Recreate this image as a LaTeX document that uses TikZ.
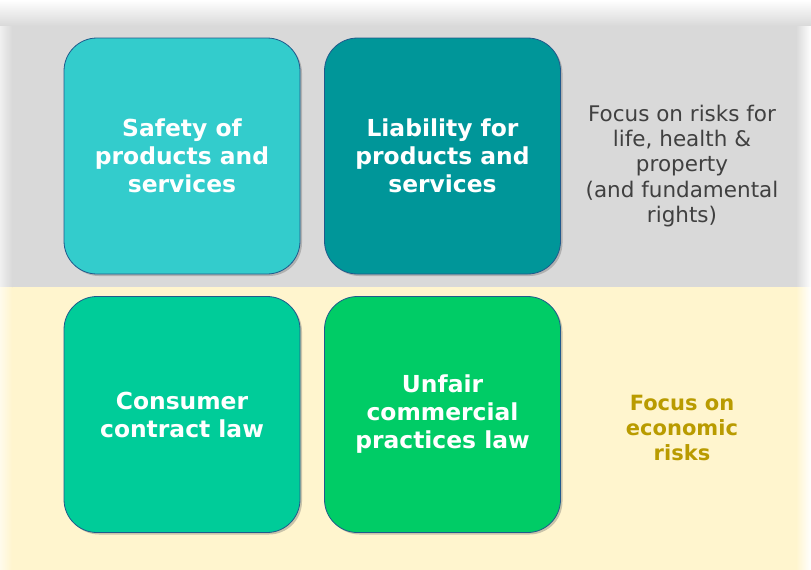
\documentclass[tikz,border=0pt]{standalone}
\usepackage{fontspec}
\setmainfont{DejaVu Sans}
\usetikzlibrary{shadows}
\definecolor{bandgray}{RGB}{217,217,217}
\definecolor{bandyellow}{RGB}{255,245,206}
\definecolor{cA}{RGB}{51,204,204}
\definecolor{cB}{RGB}{0,150,153}
\definecolor{cC}{RGB}{0,204,153}
\definecolor{cD}{RGB}{0,204,102}
\definecolor{edge}{RGB}{31,90,140}
\definecolor{txtgray}{RGB}{64,64,64}
\definecolor{txtgold}{RGB}{185,155,0}
\tikzset{
  tile/.style={draw=edge, line width=0.8pt, rounded corners=33pt,
    minimum width=236pt, minimum height=236pt, inner sep=0pt,
    text=white, align=center, anchor=center,
    font=\fontsize{23.4}{28}\selectfont\bfseries,
    drop shadow={shadow xshift=2pt, shadow yshift=-2pt, opacity=0.35, fill=black!60}},
  note/.style={align=center, anchor=center, inner sep=0pt}
}
\begin{document}
\begin{tikzpicture}[x=1pt,y=-1pt]
\useasboundingbox (0,0) rectangle (811,570);
\fill[white] (0,0) rectangle (811,570);
% bands
\fill[bandgray] (0,0) rectangle (796,287);
\fill[bandyellow] (0,287) rectangle (796,570);
\shade[top color=white, bottom color=bandgray] (0,0) rectangle (811,26);
\shade[left color=bandgray, right color=white] (796,26) rectangle (811,287);
\shade[left color=bandyellow, right color=white] (796,287) rectangle (811,570);
\shade[left color=white!60!bandgray, right color=bandgray] (0,26) rectangle (12,287);
\shade[left color=white!60!bandyellow, right color=bandyellow] (0,287) rectangle (12,570);
% tiles
\node[tile, fill=cA] (safety) at (182,156) {Safety of\\products and\\services};
\node[tile, fill=cB] (liability) at (442.5,156) {Liability for\\products and\\services};
\node[tile, fill=cC] (contract) at (182,414.5) {Consumer\\contract law};
\node[tile, fill=cD] (unfair) at (442.5,414.5) {Unfair\\commercial\\practices law};
% notes
\node[note, text=txtgray, font=\fontsize{21.5}{25.3}\selectfont] (risks) at (682,166)
  {Focus on risks for\\life, health \&\\property\\(and fundamental\\rights)};
\node[note, text=txtgold, font=\fontsize{21}{25}\selectfont\bfseries] (econ) at (682,428)
  {Focus on\\economic\\risks};
\end{tikzpicture}
\end{document}
